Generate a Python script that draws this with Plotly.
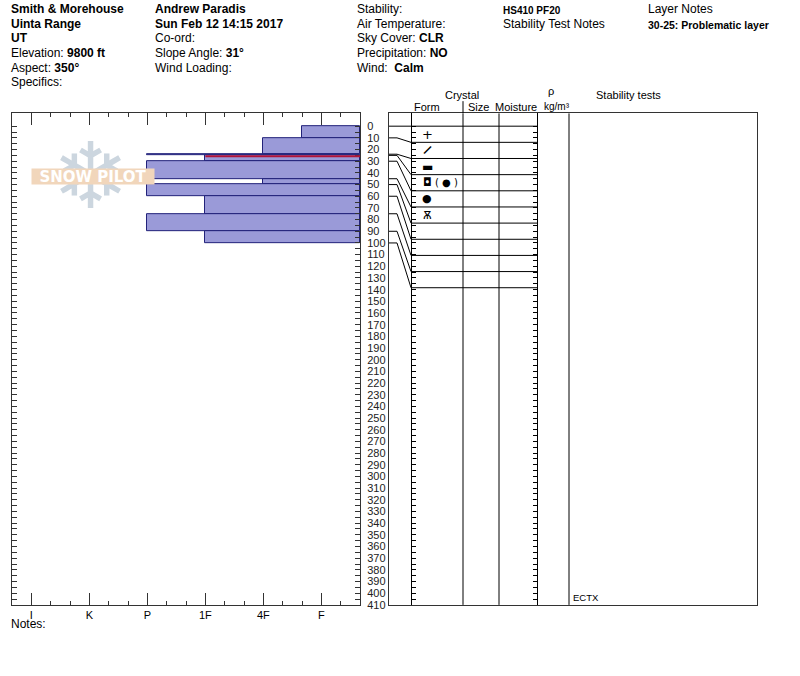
import plotly.graph_objects as go

W, H = 800, 676
H_FIG = 683          # page is photographed slightly squeezed; draw in a 800x676 frame
FONT = "Liberation Sans"

# snow layers, top to bottom (cm from surface)
LAYER_TOP = [0, 10, 24, 25, 30, 45, 50, 60, 75, 90]
LAYER_BOTTOM = [10, 24, 25, 30, 45, 50, 60, 75, 90, 100]
LAYER_HARDNESS = ["F+", "4F", "P", "1F", "P", "4F", "P", "1F", "P", "1F"]
FORM_PRIMARY = ["+", "─", "▬", "◘", "●", "Ѫ", "", "", "", ""]
FORM_SECONDARY = ["", "", "", "( ● )", "", "", "", "", "", ""]

HARDNESS_LABELS = ["F", "4F", "1F", "P", "K", "I"]
SNOW_HEIGHT = 410
PF = 20
PROBLEM_LAYER = (30, 25)
TEST_RESULTS = ["ECTX"]
TEST_DEPTHS = [410]

# page geometry (px)
Y_TOP_PX, Y_ZERO_PX, Y_BOT_PX = 113, 126, 604
PX_PER_CM = (Y_BOT_PX - Y_ZERO_PX) / SNOW_HEIGHT
DEPTH_TOP = -(Y_ZERO_PX - Y_TOP_PX) / PX_PER_CM
YDOM = [1 - Y_BOT_PX / H, 1 - Y_TOP_PX / H]
H_LEFT, H_RIGHT = 19 / 3, 1 / 3          # hardness axis ends
ROW_H = 16.13 / PX_PER_CM                # row height of layer table in depth units
COL_FORM, COL_SIZE, COL_MOIST, COL_RHO, COL_STAB = 22, 74, 110, 148, 180
STUB = 8

DEPTH_LABELS = list(range(0, SNOW_HEIGHT + 1, 10))
DEPTH_MINOR = list(range(5, SNOW_HEIGHT, 10))
DEPTH_TICKS = list(range(0, SNOW_HEIGHT + 1, 5))


def hardness_value(code):
    base = code.rstrip("+-")
    v = HARDNESS_LABELS.index(base) + 1
    if code.endswith("+"):
        v += 1 / 3
    elif code.endswith("-"):
        v -= 1 / 3
    return v


def ann(x, y, text, size=12, anchor="left", color="black", **kw):
    d = dict(x=x / W, y=1 - y / H, xref="paper", yref="paper", text=text,
             showarrow=False, xanchor=anchor, yanchor="middle",
             font=dict(family=FONT, size=size, color=color))
    d.update(kw)
    return d


hv = [hardness_value(c) for c in LAYER_HARDNESS]
centers = [(t + b) / 2 for t, b in zip(LAYER_TOP, LAYER_BOTTOM)]
thick = [b - t for t, b in zip(LAYER_TOP, LAYER_BOTTOM)]

fig = go.Figure()

fig.add_trace(go.Bar(
    y=centers, x=[v - H_RIGHT for v in hv], base=H_RIGHT, width=thick,
    orientation="h", marker=dict(color="#9a9ad8", line=dict(color="#22227a", width=1)),
    xaxis="x", yaxis="y", hoverinfo="skip", showlegend=False))

# connector lines from real depth to table rows
bounds = LAYER_TOP + [LAYER_BOTTOM[-1]]
cx, cy = [], []
for i, d in enumerate(bounds):
    r = i * ROW_H
    cx += [0, STUB, COL_FORM, COL_RHO, None]
    cy += [d, d, r, r, None]
fig.add_trace(go.Scatter(x=cx, y=cy, mode="lines", line=dict(color="black", width=1),
                         xaxis="x3", yaxis="y3", hoverinfo="skip", showlegend=False))
for ya in ["y4", "y5"]:
    fig.add_trace(go.Scatter(x=[None], y=[None], xaxis="x3", yaxis=ya,
                             showlegend=False, hoverinfo="skip"))

axis_line = dict(showline=True, linecolor="#333", linewidth=1, showgrid=False, zeroline=False)

fig.update_layout(
    width=W, height=H_FIG, autosize=False,
    margin=dict(l=0, r=0, t=0, b=0),
    paper_bgcolor="white", plot_bgcolor="white",
    showlegend=False, bargap=0,
    xaxis=dict(domain=[12 / W, 360 / W], range=[H_LEFT, H_RIGHT], anchor="y",
               tickmode="array", tickvals=list(range(1, 7)), ticktext=HARDNESS_LABELS,
               ticks="inside", ticklen=12, tickcolor="#333", mirror="ticks",
               minor=dict(tick0=0, dtick=1 / 3, ticks="inside", ticklen=4, tickcolor="#333"),
               ticklabelstandoff=0,
               tickfont=dict(family=FONT, size=11, color="black"), **axis_line),
    yaxis=dict(domain=YDOM, range=[SNOW_HEIGHT, DEPTH_TOP], anchor="x", side="right",
               tickmode="array", tickvals=DEPTH_LABELS,
               ticks="inside", ticklen=5, tickcolor="#333", mirror="ticks",
               minor=dict(tickmode="array", tickvals=DEPTH_MINOR, ticks="inside",
                          ticklen=5, tickcolor="#333"),
               ticklabelstandoff=4,
               tickfont=dict(family=FONT, size=11, color="#222"), **axis_line),
    xaxis3=dict(domain=[389 / W, 757 / W], range=[0, 368], anchor="y3",
                showticklabels=False, ticks="", mirror=True, **axis_line),
    yaxis3=dict(domain=YDOM, range=[SNOW_HEIGHT, DEPTH_TOP], anchor="x3",
                showticklabels=False, ticks="", mirror=True, **axis_line),
    yaxis4=dict(overlaying="y3", anchor="free", position=411 / W, side="left",
                range=[SNOW_HEIGHT, DEPTH_TOP], showticklabels=False,
                tickmode="array", tickvals=DEPTH_TICKS, ticks="inside", ticklen=4,
                tickcolor="black",
                showline=True, linecolor="black", linewidth=1, showgrid=False, zeroline=False),
    yaxis5=dict(overlaying="y3", anchor="free", position=537 / W, side="right",
                range=[SNOW_HEIGHT, DEPTH_TOP], showticklabels=False,
                tickmode="array", tickvals=DEPTH_TICKS, ticks="inside", ticklen=4,
                tickcolor="black",
                showline=True, linecolor="black", linewidth=1, showgrid=False, zeroline=False),
)

shapes = []
# problematic layer marker
p_top = min(PROBLEM_LAYER)
p_idx = LAYER_TOP.index(p_top)
shapes.append(dict(type="line", xref="x", yref="y", x0=hv[p_idx], x1=H_RIGHT,
                   y0=p_top + 0.8, y1=p_top + 0.8, line=dict(color="#b0143a", width=2)))
for cxp in [COL_SIZE, COL_MOIST, COL_STAB]:
    shapes.append(dict(type="line", xref="x3", yref="y3", x0=cxp, x1=cxp,
                       y0=DEPTH_TOP, y1=SNOW_HEIGHT, line=dict(color="black", width=1)))
shapes.append(dict(type="line", xref="paper", yref="paper", x0=463 / W, x1=463 / W,
                   y0=1 - 101 / H, y1=1 - 113 / H, line=dict(color="black", width=1)))
fig.update_layout(shapes=shapes)

anns = []
# watermark
anns.append(ann(90, 176, "❄", anchor="center",
                font=dict(family="DejaVu Sans", size=92, color="#ccd6df")))
anns.append(ann(93, 176, "<b>SNOW PILOT</b>", anchor="center",
                font=dict(family="DejaVu Sans", size=15, color="white"),
                bgcolor="#f1d6bb", width=122, height=15, borderpad=0))

# header block
LINE_Y = [9, 24, 38, 53, 68, 82]
col1 = ["<b>Smith & Morehouse</b>", "<b>Uinta Range</b>", "<b>UT</b>",
        "Elevation: <b>9800 ft</b>", "Aspect: <b>350°</b>", "Specifics:"]
col2 = ["<b>Andrew Paradis</b>", "<b>Sun Feb 12 14:15 2017</b>", "Co-ord:",
        "Slope Angle: <b>31°</b>", "Wind Loading:"]
col3 = ["Stability:", "Air Temperature:", "Sky Cover: <b>CLR</b>",
        "Precipitation: <b>NO</b>", "Wind:&nbsp; <b>Calm</b>"]
for xx, col in [(9, col1), (153, col2), (355, col3)]:
    for yy, t in zip(LINE_Y, col):
        anns.append(ann(xx, yy, t))
anns.append(ann(501, 10, f"<b>HS{SNOW_HEIGHT} PF{PF}</b>", size=10))
anns.append(ann(501, 24, "Stability Test Notes"))
anns.append(ann(646, 9, "Layer Notes"))
anns.append(ann(646, 25, f"<b>{PROBLEM_LAYER[0]}-{PROBLEM_LAYER[1]}: Problematic layer</b>", size=10.5))

# table headings
anns.append(ann(462, 95, "Crystal", size=11, anchor="center"))
anns.append(ann(427, 107, "Form", size=11, anchor="center"))
anns.append(ann(478, 107, "Size", size=11, anchor="center"))
anns.append(ann(516, 107, "Moisture", size=11, anchor="center"))
anns.append(ann(551, 91, "ρ", size=11, anchor="center"))
anns.append(ann(557, 106, "kg/m³", size=10, anchor="center"))
anns.append(ann(628, 95, "Stability tests", size=11, anchor="center"))
anns.append(ann(9, 623, "Notes:"))

# grain forms
FORM_SIZE = [13, 16, 12, 11, 11, 11, 11, 11, 11, 11]
FORM_ANGLE = [0, -45, 0, 0, 0, 0, 0, 0, 0, 0]
for i, (p, s) in enumerate(zip(FORM_PRIMARY, FORM_SECONDARY)):
    yc = (i + 0.5) * ROW_H
    if p:
        anns.append(dict(x=38, y=yc, xref="x3", yref="y3", text=p, showarrow=False,
                         xanchor="center", yanchor="middle", textangle=FORM_ANGLE[i],
                         font=dict(family="DejaVu Sans", size=FORM_SIZE[i], color="black")))
    if s:
        anns.append(dict(x=57, y=yc, xref="x3", yref="y3", text=s, showarrow=False,
                         xanchor="center", yanchor="middle",
                         font=dict(family="DejaVu Sans", size=10, color="black")))

# stability test results
for t, d in zip(TEST_RESULTS, TEST_DEPTHS):
    anns.append(dict(x=COL_STAB + 2, y=d, xref="x3", yref="y3", text=t, showarrow=False,
                     xanchor="left", yanchor="bottom",
                     font=dict(family=FONT, size=9.5, color="black")))

fig.update_layout(annotations=anns)
fig.write_html(
    "out.html",
    config={"displayModeBar": False},
    post_script="document.body.style.margin='0';",
)
